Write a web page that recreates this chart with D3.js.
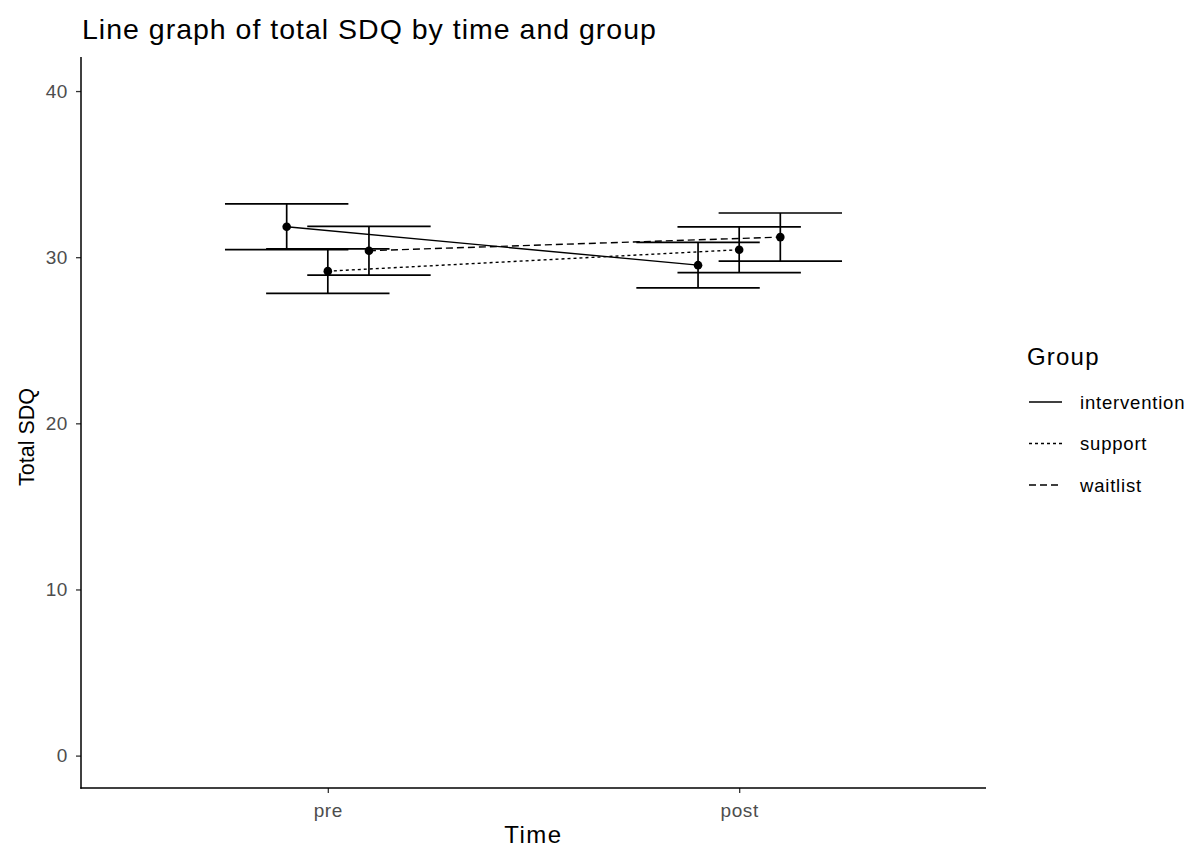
<!DOCTYPE html>
<html>
<head>
<meta charset="utf-8">
<script src="https://cdn.jsdelivr.net/npm/d3@7"></script>
<style>
  body { margin: 0; background: #fff; }
  svg { display: block; font-family: "Liberation Sans", Arial, sans-serif; }
</style>
</head>
<body>
<svg id="chart" width="1185" height="850"></svg>
<script>
// Mean total SDQ with standard-error bars by time point and group
const times = ["pre", "post"];
const groups = ["intervention", "support", "waitlist"];
const means = {
  intervention: [31.83, 29.52],
  support:      [29.16, 30.45],
  waitlist:     [30.39, 31.21]
};
const errors = {
  intervention: [1.38, 1.37],
  support:      [1.34, 1.38],
  waitlist:     [1.47, 1.45]
};
const yTicks = [0, 10, 20, 30, 40];
const dashes = { intervention: null, support: "3,3", waitlist: "7,4" };

const svg = d3.select("#chart");
const plot = { left: 81, right: 986, top: 57, bottom: 788 };

// Discrete time positions 1, 2 with ggplot-style padding
const x = d3.scaleLinear().domain([0.4, 2.6]).range([plot.left, plot.right]);
const y = d3.scaleLinear().domain([-1.95, 42.05]).range([plot.bottom, plot.top]);
const dodge = d3.scaleOrdinal().domain(groups).range([-0.1, 0, 0.1]);
const capHalf = 0.15;

const rows = [];
groups.forEach(g => times.forEach((t, i) => {
  rows.push({ group: g, time: t, pos: i + 1 + dodge(g), mean: means[g][i], se: errors[g][i] });
}));

// Axes
const yAxis = d3.axisLeft(y).tickValues(yTicks).tickSize(5).tickPadding(8);
const gy = svg.append("g").attr("transform", `translate(${plot.left},0)`).call(yAxis);
const xAxis = d3.axisBottom(x).tickValues([1, 2]).tickFormat(d => times[d - 1]).tickSize(5).tickPadding(11);
const gx = svg.append("g").attr("transform", `translate(0,${plot.bottom})`).call(xAxis);
[gx, gy].forEach(g => {
  g.select(".domain").remove();
  g.selectAll(".tick line").attr("stroke", "#333").attr("stroke-width", 1.3);
  g.selectAll(".tick text").attr("fill", "#4d4d4d").style("font-size", "19px")
    .style("letter-spacing", "0.6px");
});
svg.append("line").attr("x1", plot.left).attr("x2", plot.left)
  .attr("y1", plot.top).attr("y2", plot.bottom + 0.7).attr("stroke", "#000").attr("stroke-width", 1.5);
svg.append("line").attr("x1", plot.left - 0.7).attr("x2", plot.right)
  .attr("y1", plot.bottom).attr("y2", plot.bottom).attr("stroke", "#000").attr("stroke-width", 1.5);

// Error bars
const eb = svg.append("g").attr("stroke", "#000").attr("stroke-width", 1.7).attr("fill", "none");
rows.forEach(r => {
  const hi = y(r.mean + r.se), lo = y(r.mean - r.se);
  eb.append("line").attr("x1", x(r.pos)).attr("x2", x(r.pos)).attr("y1", hi).attr("y2", lo);
  eb.append("line").attr("x1", x(r.pos - capHalf)).attr("x2", x(r.pos + capHalf)).attr("y1", hi).attr("y2", hi);
  eb.append("line").attr("x1", x(r.pos - capHalf)).attr("x2", x(r.pos + capHalf)).attr("y1", lo).attr("y2", lo);
});

// Group lines
const line = d3.line().x(d => x(d.pos)).y(d => y(d.mean));
groups.forEach(g => {
  svg.append("path").datum(rows.filter(r => r.group === g))
    .attr("d", line).attr("fill", "none").attr("stroke", "#000").attr("stroke-width", 1.4)
    .attr("stroke-dasharray", dashes[g]);
});

// Points
svg.append("g").selectAll("circle").data(rows).join("circle")
  .attr("cx", d => x(d.pos)).attr("cy", d => y(d.mean)).attr("r", 4.3).attr("fill", "#000");

// Titles
svg.append("text").attr("x", 82).attr("y", 39).style("font-size", "28.5px")
  .style("letter-spacing", "1px").attr("fill", "#000")
  .text("Line graph of total SDQ by time and group");
svg.append("text").attr("x", (plot.left + plot.right) / 2).attr("y", 843).attr("text-anchor", "middle")
  .style("font-size", "24px").style("letter-spacing", "1.5px").text("Time");
svg.append("text").attr("transform", "translate(34,437) rotate(-90)")
  .attr("text-anchor", "middle").style("font-size", "21.5px").text("Total SDQ");

// Legend
const lg = svg.append("g").attr("transform", "translate(1027,0)");
lg.append("text").attr("x", 0).attr("y", 365).style("font-size", "24px")
  .style("letter-spacing", "1.2px").text("Group");
groups.forEach((g, i) => {
  const yy = 402 + i * 41.5;
  lg.append("line").attr("x1", 2).attr("x2", 35).attr("y1", yy).attr("y2", yy)
    .attr("stroke", "#000").attr("stroke-width", 1.4).attr("stroke-dasharray", dashes[g]);
  lg.append("text").attr("x", 53).attr("y", yy + 6.5).style("font-size", "18.5px")
    .style("letter-spacing", "0.8px").text(g);
});
</script>
</body>
</html>
